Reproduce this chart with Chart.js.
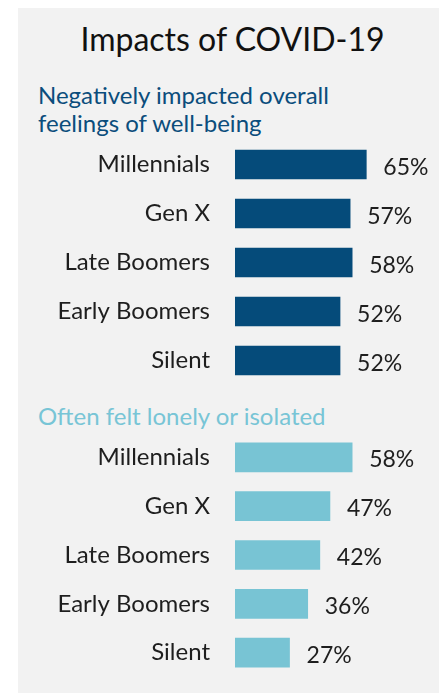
<!DOCTYPE html>
<html>
<head>
<meta charset="utf-8">
<script src="https://cdn.jsdelivr.net/npm/chart.js@4.4.1/dist/chart.umd.min.js"></script>
<style>
  html, body { margin: 0; padding: 0; background: #ffffff; }
  body { width: 439px; height: 693px; position: relative; overflow: hidden; font-family: Lato, sans-serif; }
  #panel { position: absolute; left: 18px; top: 8px; width: 421px; height: 685px; background: #f2f2f2; }
  .title { position: absolute; left: 0; width: 439px; text-align: center; top: 19px;
           font-size: 32px; line-height: 40px; color: #111111; padding-left: 26px; box-sizing: border-box; }
  .subtitle { position: absolute; left: 38px; font-size: 24px; line-height: 28px; white-space: nowrap; }
  #sub1 { top: 81px; color: #0b4d7c; }
  #sub2 { top: 402px; color: #78c5d6; }
  canvas { position: absolute; left: 18px; }
  #wellbeingChart { top: 140px; }
  #lonelyChart { top: 433px; }
</style>
</head>
<body>
<div id="panel"></div>
<div class="title">Impacts of COVID-19</div>
<div class="subtitle" id="sub1">Negatively impacted overall<br>feelings of well-being</div>
<div class="subtitle" id="sub2">Often felt lonely or isolated</div>
<canvas id="wellbeingChart" width="421" height="245"></canvas>
<canvas id="lonelyChart" width="421" height="244"></canvas>

<script>
// generations shown in both panels
const generations = ['Millennials', 'Gen X', 'Late Boomers', 'Early Boomers', 'Silent'];
// % who said COVID-19 negatively impacted overall well-being
const wellbeingValues = [65, 57, 58, 52, 52];
// % who often felt lonely or isolated
const lonelyValues = [58, 47, 42, 36, 27];
const axisMax = 100;

// writes "NN%" just right of each bar
const valueLabels = {
    id: 'valueLabels',
    afterDatasetsDraw(chart) {
        const ctx = chart.ctx;
        const meta = chart.getDatasetMeta(0);
        const values = chart.data.datasets[0].data;
        ctx.save();
        ctx.font = '23px Lato, sans-serif';
        ctx.fillStyle = '#1e1e1e';
        ctx.textAlign = 'left';
        ctx.textBaseline = 'alphabetic';
        meta.data.forEach((bar, i) => {
            ctx.fillText(values[i] + '%', bar.x + 17, bar.y + 10);
        });
        ctx.restore();
    }
};

function makeChart(canvasId, values, color) {
    const ctx = document.getElementById(canvasId).getContext('2d');
    return new Chart(ctx, {
        type: 'bar',
        data: {
            labels: generations,
            datasets: [{
                data: values,
                backgroundColor: color,
                borderWidth: 0,
                barThickness: 29
            }]
        },
        options: {
            indexAxis: 'y',
            responsive: false,
            animation: false,
            layout: { padding: { left: 0, right: 2, top: 0, bottom: 0 } },
            plugins: {
                legend: { display: false },
                tooltip: { enabled: false }
            },
            scales: {
                x: {
                    display: false,
                    min: 0,
                    max: axisMax
                },
                y: {
                    grid: { display: false, drawTicks: false },
                    border: { display: false },
                    ticks: {
                        padding: 25,
                        color: '#1e1e1e',
                        font: { family: 'Lato, sans-serif', size: 24 }
                    },
                    afterFit(scale) {
                        // fixed label column; no extra vertical room for tick padding
                        scale.width = 217;
                        scale.paddingTop = 0;
                        scale.paddingBottom = 0;
                    }
                }
            }
        },
        plugins: [valueLabels]
    });
}

document.addEventListener('DOMContentLoaded', function() {
    makeChart('wellbeingChart', wellbeingValues, '#054b7a');
    makeChart('lonelyChart', lonelyValues, '#78c4d4');
});
</script>
</body>
</html>
